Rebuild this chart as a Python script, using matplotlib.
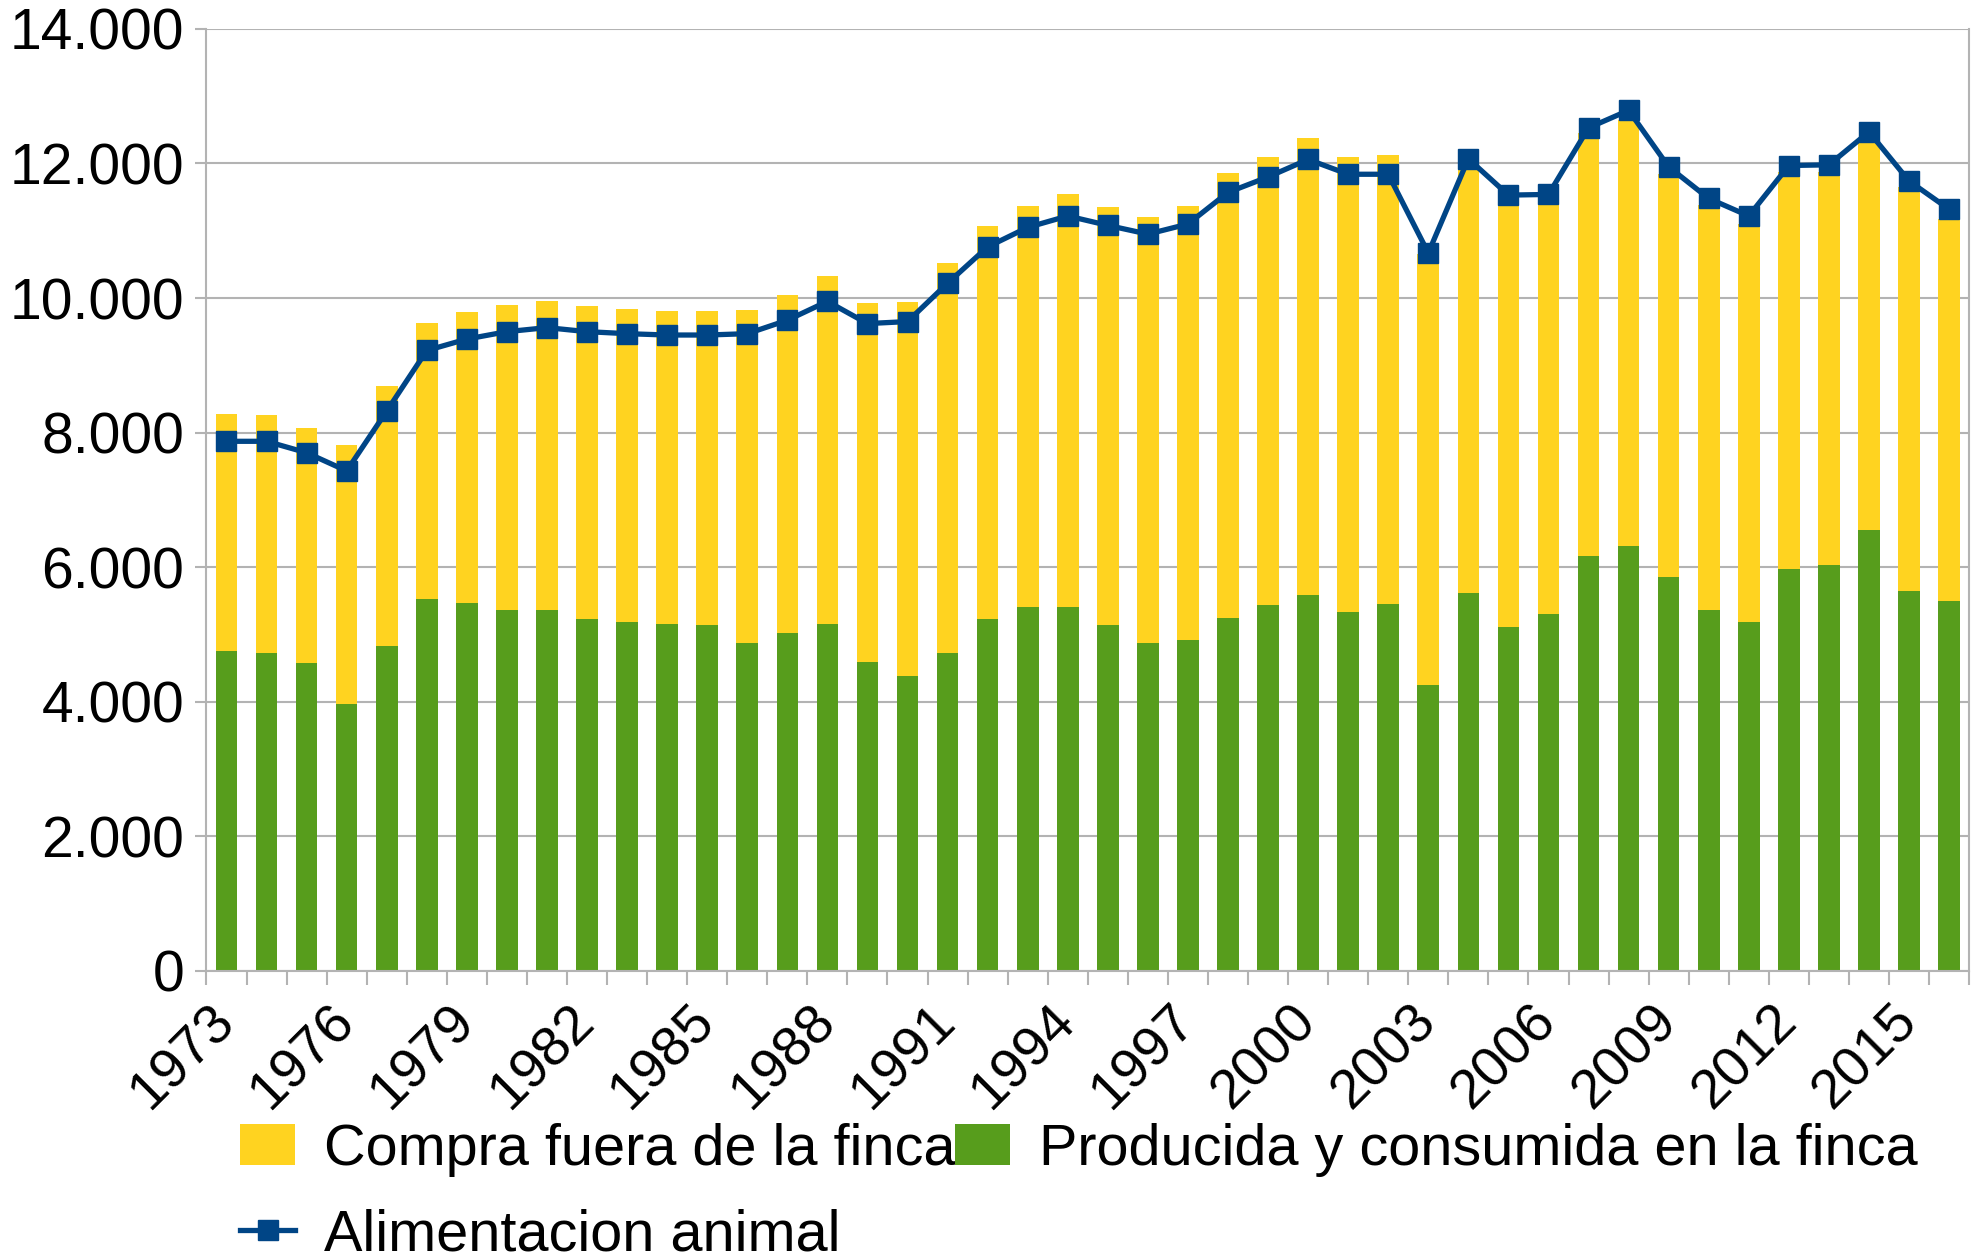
import numpy as np
import matplotlib.pyplot as plt
from matplotlib.ticker import FuncFormatter, MultipleLocator

plt.rcParams['font.family'] = ['Liberation Sans', 'DejaVu Sans']

years = list(range(1973, 2017))

# Producida y consumida en la finca (green, bottom)
producida = [4760, 4720, 4570, 3970, 4820, 5530, 5460, 5360, 5360, 5230,
             5190, 5160, 5140, 4870, 5020, 5160, 4590, 4380, 4720, 5230,
             5400, 5400, 5140, 4870, 4910, 5250, 5440, 5590, 5330, 5450,
             4250, 5620, 5110, 5300, 6170, 6320, 5850, 5360, 5190, 5970,
             6030, 6550, 5650, 5500]

# total bar height (producida + compra)
total = [8280, 8260, 8070, 7810, 8690, 9630, 9790, 9900, 9950, 9880,
         9840, 9800, 9800, 9820, 10050, 10330, 9920, 9940, 10520, 11070,
         11370, 11540, 11350, 11200, 11370, 11860, 12100, 12380, 12100, 12130,
         10650, 12000, 11400, 11400, 12450, 12640, 11850, 11380, 11100, 11880,
         11880, 12350, 11650, 11180]

# Alimentacion animal (line)
alimentacion = [7870, 7870, 7700, 7430, 8320, 9220, 9390, 9500, 9560, 9500,
                9470, 9450, 9450, 9470, 9670, 9950, 9620, 9650, 10220, 10760,
                11050, 11220, 11080, 10950, 11100, 11570, 11800, 12060, 11840, 11840,
                10670, 12070, 11530, 11540, 12530, 12790, 11950, 11480, 11220, 11970,
                11980, 12470, 11740, 11320]

compra = [t - p for t, p in zip(total, producida)]

YELLOW = '#ffd320'
GREEN = '#579d1c'
BLUE = '#004586'
GRID = '#b3b3b3'

x = np.arange(len(years))

fig = plt.figure(figsize=(19.85, 12.59), dpi=100)
ax = fig.add_axes([0.104, 0.229, 0.888, 0.748])

b_green = ax.bar(x, producida, width=0.54, color=GREEN, zorder=2,
                 label='Producida y consumida en la finca')
b_yellow = ax.bar(x, compra, width=0.54, bottom=producida, color=YELLOW, zorder=2,
                  label='Compra fuera de la finca')
ln, = ax.plot(x, alimentacion, color=BLUE, lw=3.8, marker='s', ms=14,
              zorder=3, label='Alimentacion animal')

ax.set_xlim(-0.5, len(years) - 0.5)
ax.set_ylim(0, 14000)
ax.yaxis.set_major_locator(MultipleLocator(2000))
ax.yaxis.set_major_formatter(FuncFormatter(lambda v, p: f'{int(v):,}'.replace(',', '.')))
ax.grid(axis='y', color=GRID, lw=1.5, zorder=0)

ax.set_xticks(x[::3])
ax.set_xticklabels([str(y) for y in years[::3]], rotation=45, ha='right',
                   va='center', rotation_mode='anchor')
ax.set_xticks(np.arange(-0.5, len(years), 1), minor=True)
ax.tick_params(axis='x', which='major', length=0, pad=31, labelsize=40)
ax.tick_params(axis='x', which='minor', length=10, width=1.5, color=GRID)
ax.tick_params(axis='y', length=8, width=1.5, color=GRID, labelsize=41, pad=8)

for s in ['left', 'right', 'bottom']:
    ax.spines[s].set_color(GRID)
    ax.spines[s].set_linewidth(1.5)
ax.spines['top'].set_visible(False)

fig.legend([b_yellow, ln, b_green],
           ['Compra fuera de la finca', 'Alimentacion animal',
            'Producida y consumida en la finca'],
           ncol=2, loc='lower left', bbox_to_anchor=(0.1095, -0.021),
           frameon=False, fontsize=41.5, handlelength=0.95, handleheight=0.7,
           handletextpad=0.5, columnspacing=0.0, labelspacing=0.55,
           borderaxespad=0)

fig.savefig('out.png', dpi=100)
